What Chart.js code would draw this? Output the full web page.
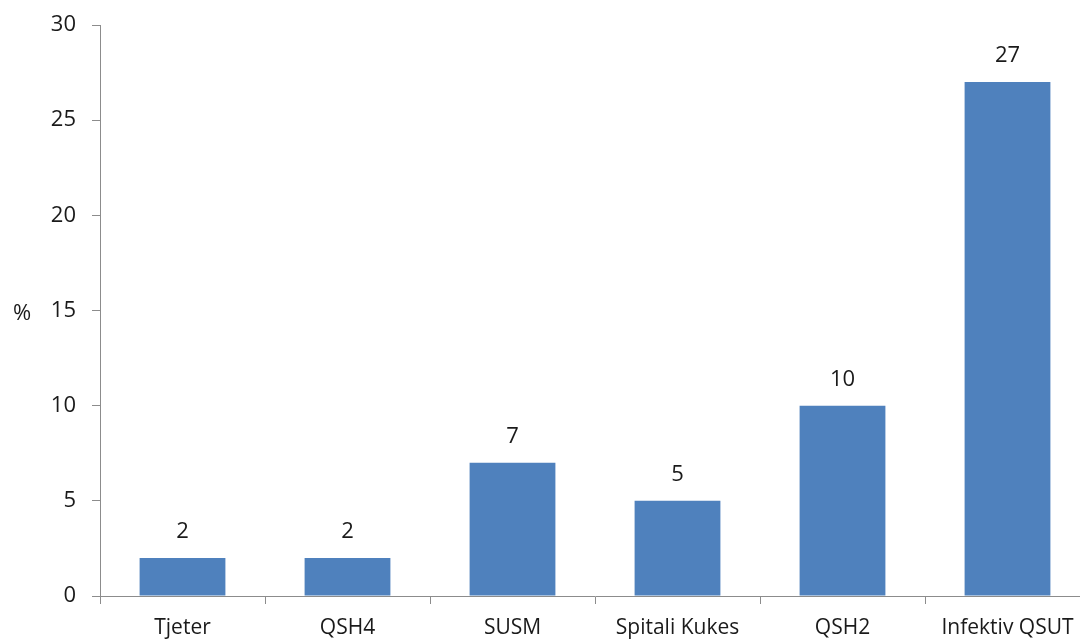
<!DOCTYPE html>
<html>
<head>
<meta charset="utf-8">
<script src="https://cdn.jsdelivr.net/npm/chart.js@4"></script>
<style>
    html, body { margin: 0; padding: 0; background: #fff; overflow: hidden; }
    #wrap { width: 1080px; height: 643px; overflow: hidden; }
</style>
</head>
<body>
<div id="wrap"><canvas id="barChart" width="1090" height="643"></canvas></div>
<script>
// --- chart data ---
const categories = ['Tjeter', 'QSH4', 'SUSM', 'Spitali Kukes', 'QSH2', 'Infektiv QSUT'];
const percentValues = [2, 2, 7, 5, 10, 27];
const yAxisTitle = '%';

const FONT = "'Open Sans', 'Liberation Sans', sans-serif";
const AXIS_GREY = '#8c8c8c';

// value labels above each bar + the horizontal "%" title
const barLabels = {
    id: 'barLabels',
    afterDatasetsDraw(chart) {
        const ctx = chart.ctx;
        const meta = chart.getDatasetMeta(0);
        ctx.save();
        ctx.font = '22px ' + FONT;
        ctx.fillStyle = '#1a1a1a';
        ctx.textAlign = 'center';
        ctx.textBaseline = 'middle';
        meta.data.forEach((bar, i) => {
            ctx.fillText(String(percentValues[i]), bar.x, bar.y - 26);
        });
        const area = chart.chartArea;
        ctx.fillText(yAxisTitle, 22, (area.top + area.bottom) / 2 + 3);
        ctx.restore();
    }
};

new Chart(document.getElementById('barChart').getContext('2d'), {
    type: 'bar',
    data: {
        labels: categories,
        datasets: [{
            data: percentValues,
            backgroundColor: '#4f81bd',
            borderWidth: 0,
            barPercentage: 0.52,
            categoryPercentage: 1
        }]
    },
    options: {
        responsive: false,
        animation: false,
        layout: { padding: { top: 25, right: 0, left: 0, bottom: 0 } },
        plugins: {
            legend: { display: false },
            tooltip: { enabled: false }
        },
        scales: {
            y: {
                min: 0,
                max: 30,
                ticks: {
                    stepSize: 5,
                    padding: 16,
                    color: '#1a1a1a',
                    font: { family: FONT, size: 22 }
                },
                grid: {
                    drawOnChartArea: false,
                    tickLength: 8,
                    color: AXIS_GREY
                },
                border: { color: AXIS_GREY, width: 1 },
                afterFit(scale) { scale.width = 100; scale.paddingTop = 0; }
            },
            x: {
                ticks: {
                    padding: 11,
                    color: '#1a1a1a',
                    font: { family: FONT, size: 21 }
                },
                grid: {
                    offset: true,
                    drawOnChartArea: false,
                    tickLength: 8,
                    color: AXIS_GREY
                },
                border: { color: AXIS_GREY, width: 1 },
                afterFit(scale) { scale.height = 47; }
            }
        }
    },
    plugins: [barLabels]
});
</script>
</body>
</html>
